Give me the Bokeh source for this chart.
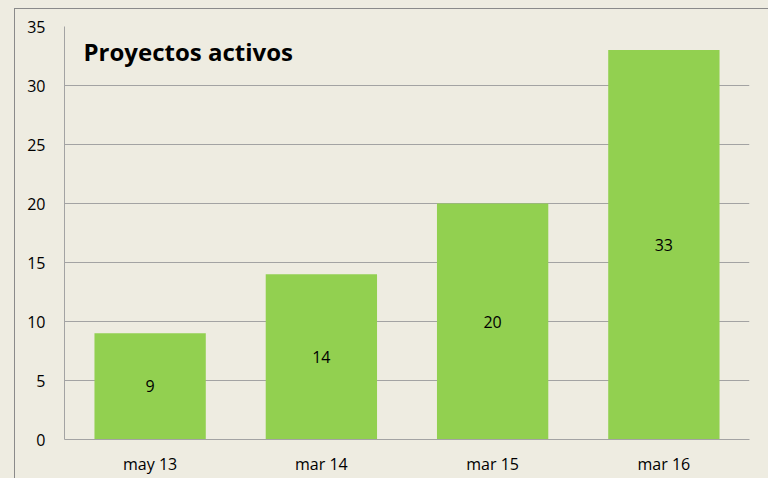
from bokeh.plotting import figure
from bokeh.models import (FactorRange, Range1d, ColumnDataSource, LabelSet, Label,
                          FixedTicker)
from bokeh.core.properties import value
from bokeh.embed import file_html
from bokeh.resources import INLINE

# ---- data ----
categories = ["may 13", "mar 14", "mar 15", "mar 16"]
proyectos = [9, 14, 20, 33]
y_ticks = [0, 5, 10, 15, 20, 25, 30, 35]
title_text = "Proyectos activos"

BG = "#EEECE1"
BAR = "#92D050"
GRID = "#A3A3A3"
BORDER = "#8A8A8A"
FONT = "Open Sans"

p = figure(width=768, height=478,
           x_range=FactorRange(*categories, range_padding=0),
           y_range=Range1d(0, 35),
           output_backend="svg", toolbar_location=None,
           min_border_left=64, min_border_right=19,
           min_border_top=26, min_border_bottom=39)
p.background_fill_color = BG
p.border_fill_color = None
p.outline_line_color = None
# chart-area background with its outer border (left and top edges)
p.styles = {
    "background-color": BG,
    "background-image": f"linear-gradient({BORDER}, {BORDER}), linear-gradient({BORDER}, {BORDER})",
    "background-size": "1px 100%, 100% 1px",
    "background-position": "14px 8px, 14px 8px",
    "background-repeat": "no-repeat",
}

src = ColumnDataSource(dict(cat=categories, val=proyectos,
                            half=[v / 2 for v in proyectos],
                            lbl=[str(v) for v in proyectos]))
p.vbar(x="cat", top="val", width=0.65, source=src,
       fill_color=BAR, line_color=None)

p.add_layout(LabelSet(x="cat", y="half", text="lbl", source=src,
                      text_align="center", text_baseline="middle",
                      text_font=value(FONT), text_font_size=value("16px"),
                      text_color="#000000"))

p.add_layout(Label(x=0.111, y=32.9, text=title_text, text_font=FONT,
                   text_font_size="24px", text_font_style="bold",
                   text_color="#000000", text_baseline="alphabetic",
                   text_align="left"))

# grid
p.xgrid.grid_line_color = None
p.ygrid.grid_line_color = GRID
p.ygrid.grid_line_width = 1
p.ygrid.ticker = FixedTicker(ticks=y_ticks)

# axes
p.yaxis.ticker = FixedTicker(ticks=y_ticks)
for ax in (p.xaxis[0], p.yaxis[0]):
    ax.axis_line_color = GRID
    ax.major_tick_line_color = None
    ax.minor_tick_line_color = None
    ax.major_tick_out = 0
    ax.major_tick_in = 0
    ax.major_label_text_font = FONT
    ax.major_label_text_font_size = "16px"
    ax.major_label_text_color = "#000000"
p.yaxis.major_label_standoff = 19
p.xaxis.major_label_standoff = 13

open("out.html", "w").write(file_html(p, INLINE))
